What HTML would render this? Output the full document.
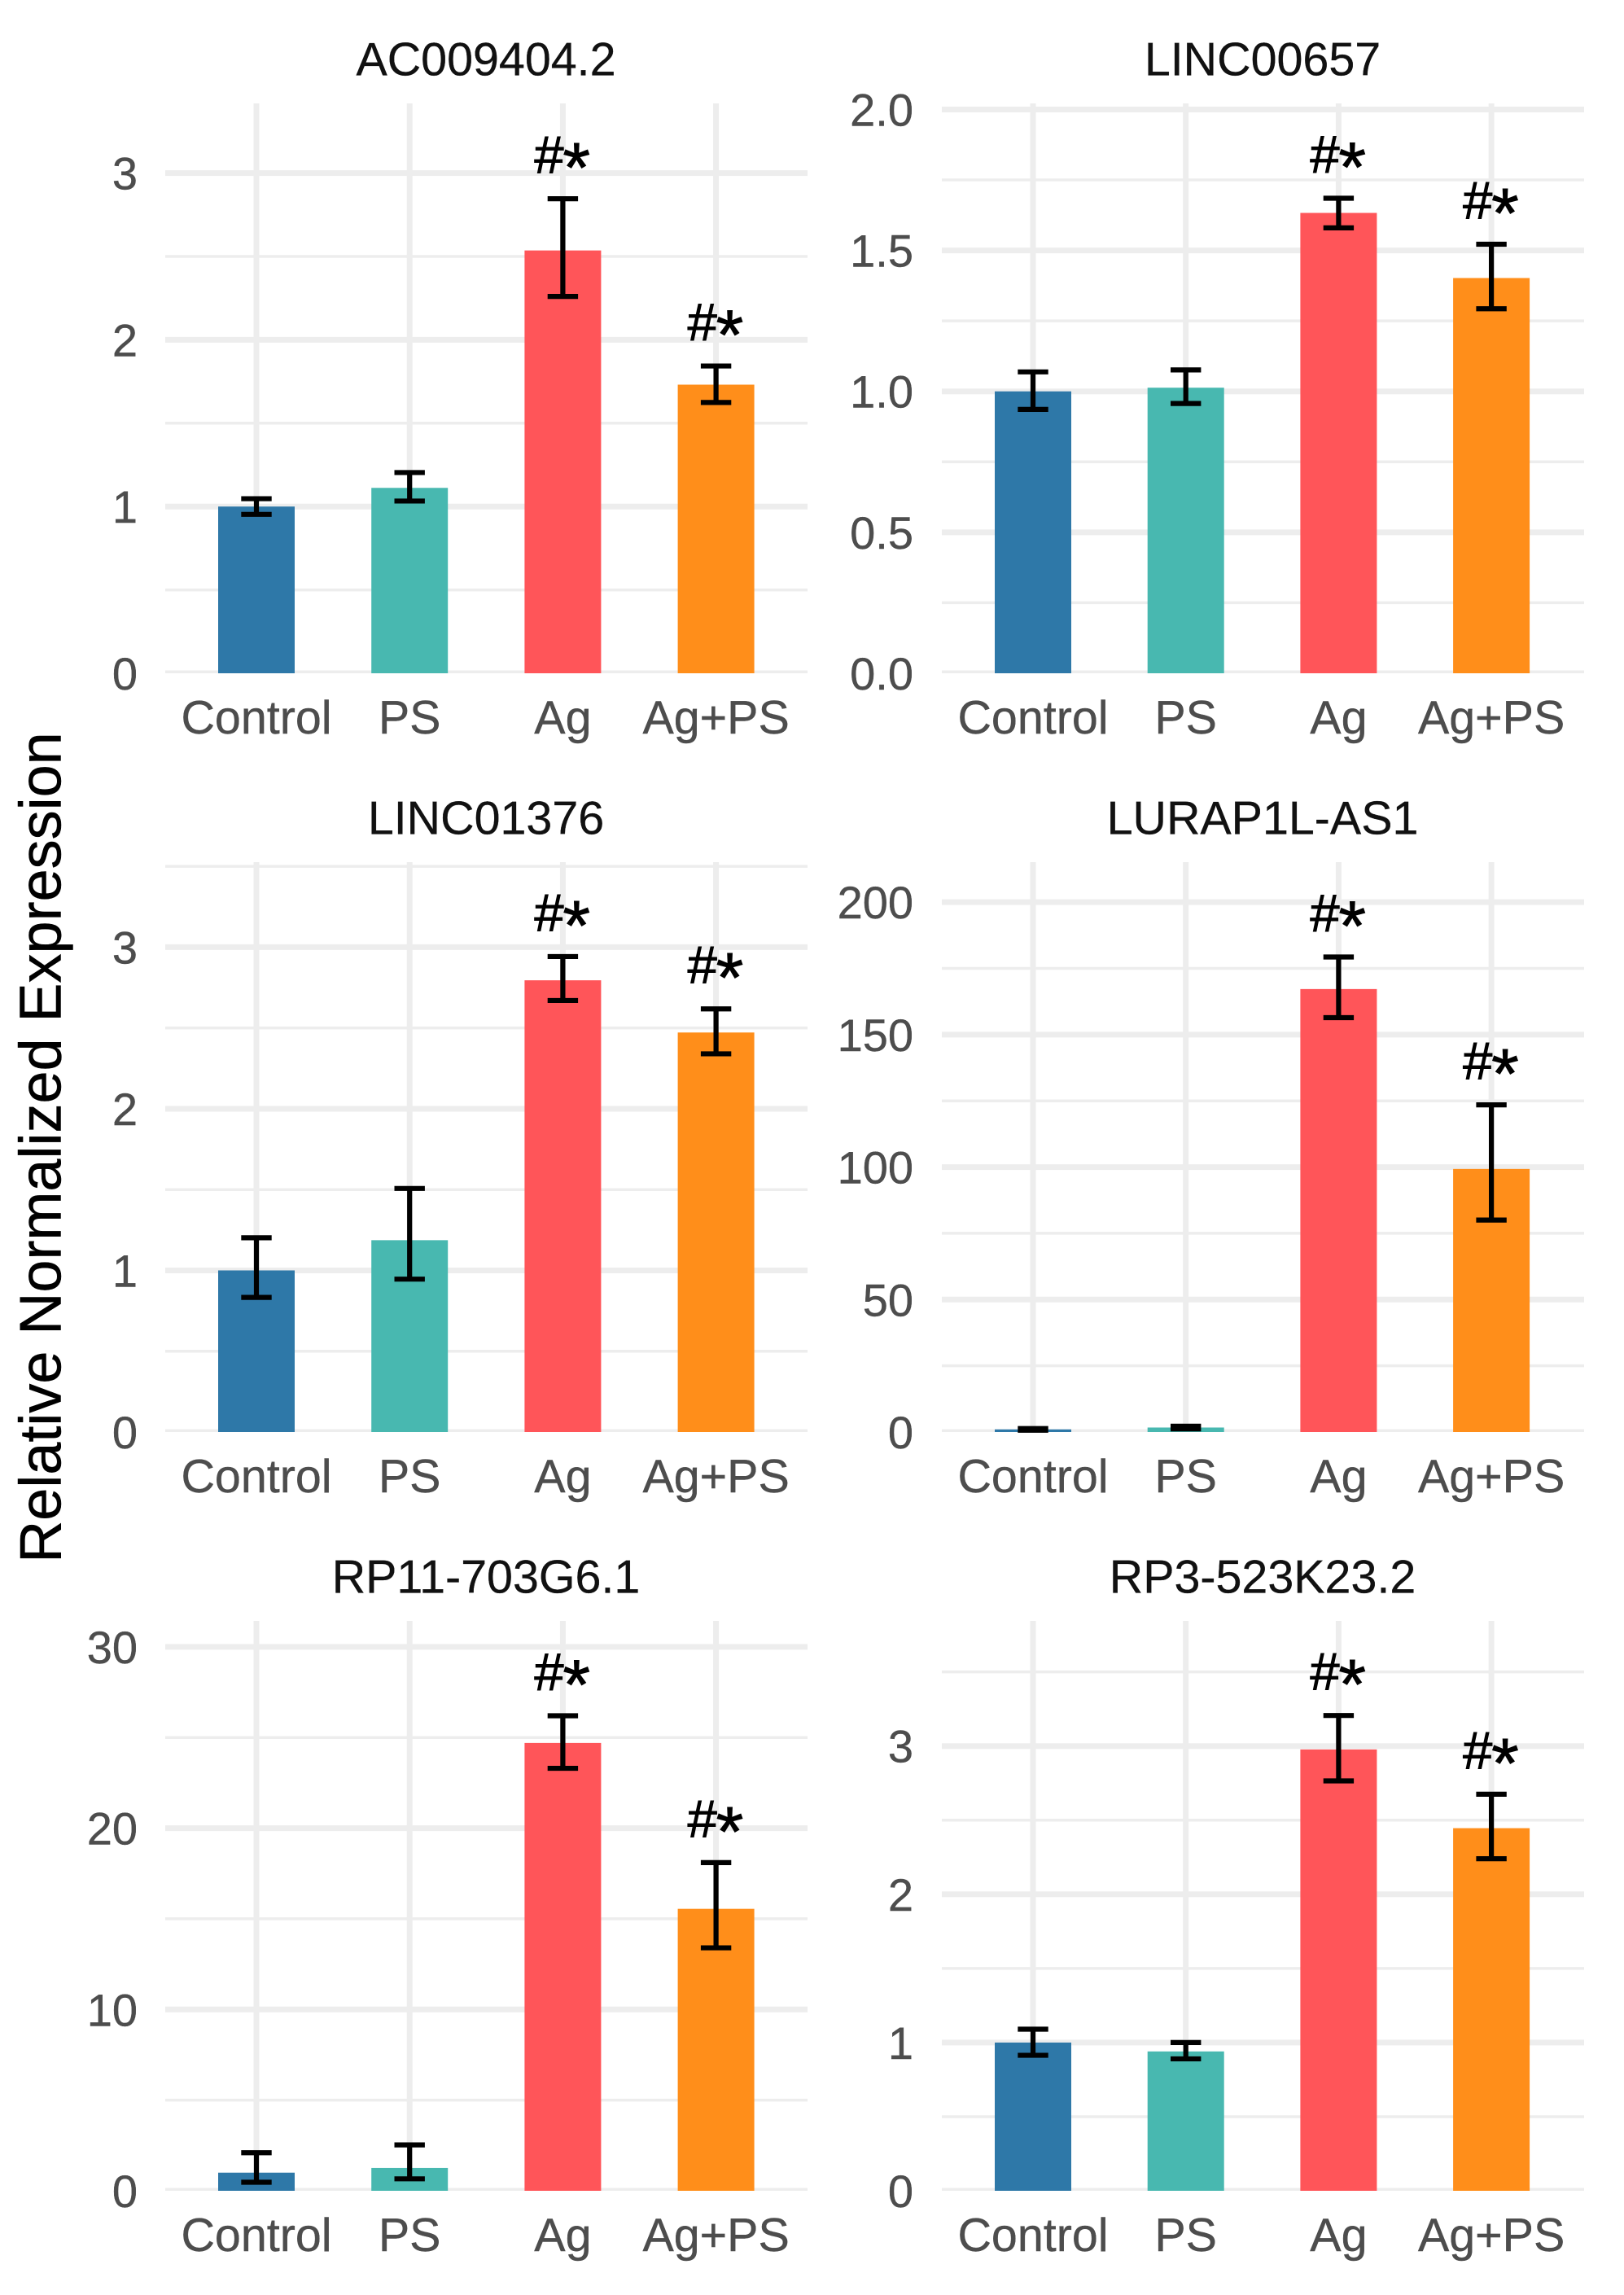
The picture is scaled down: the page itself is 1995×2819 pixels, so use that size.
<!DOCTYPE html>
<html lang="en">
<head>
<meta charset="utf-8">
<title>Relative Normalized Expression</title>
<style>
html,body{margin:0;padding:0;background:#fff;}
svg{display:block;}
text{font-family:"Liberation Sans",Arial,sans-serif;}
</style>
</head>
<body>
<svg id="chart" xmlns="http://www.w3.org/2000/svg" width="1995" height="2819" viewBox="0 0 1995 2819">
  <rect x="0" y="0" width="1995" height="2819" fill="#ffffff"/>
  <text x="0" y="0" transform="translate(74.6 1409.5) rotate(-90)" text-anchor="middle" font-size="72" fill="#000000" stroke="#000000" stroke-width="0.5">Relative Normalized Expression</text>
</svg>
<script>
const categories = ["Control", "PS", "Ag", "Ag+PS"];
const significance = ["", "", "#*", "#*"];

const ac009404Title = "AC009404.2";
const ac009404Means = [1.00, 1.112, 2.536, 1.731];
const ac009404Upper = [1.047, 1.204, 2.846, 1.843];
const ac009404Lower = [0.953, 1.033, 2.26, 1.624];
const ac009404Ticks = ["0", "1", "2", "3"];
const ac009404Top = 3.418;

const linc00657Title = "LINC00657";
const linc00657Means = [1.00, 1.013, 1.633, 1.402];
const linc00657Upper = [1.069, 1.076, 1.685, 1.522];
const linc00657Lower = [0.936, 0.957, 1.58, 1.293];
const linc00657Ticks = ["0.0", "0.5", "1.0", "1.5", "2.0"];
const linc00657Top = 2.0215;

const linc01376Title = "LINC01376";
const linc01376Means = [1.00, 1.187, 2.795, 2.472];
const linc01376Upper = [1.202, 1.507, 2.942, 2.618];
const linc01376Lower = [0.833, 0.946, 2.67, 2.34];
const linc01376Ticks = ["0", "1", "2", "3"];
const linc01376Top = 3.526;

const lurap1lTitle = "LURAP1L-AS1";
const lurap1lMeans = [1.0, 1.7, 167.2, 99.3];
const lurap1lUpper = [1.3, 2.2, 179.3, 123.5];
const lurap1lLower = [0.7, 1.2, 156.4, 80];
const lurap1lTicks = ["0", "50", "100", "150", "200"];
const lurap1lTop = 215.1;

const rp11Title = "RP11-703G6.1";
const rp11Means = [1.0, 1.26, 24.7, 15.55];
const rp11Upper = [2.1, 2.53, 26.2, 18.1];
const rp11Lower = [0.47, 0.66, 23.3, 13.4];
const rp11Ticks = ["0", "10", "20", "30"];
const rp11Top = 31.43;

const rp3Title = "RP3-523K23.2";
const rp3Means = [1.0, 0.94, 2.977, 2.446];
const rp3Upper = [1.09, 1.0, 3.206, 2.675];
const rp3Lower = [0.914, 0.89, 2.765, 2.24];
const rp3Ticks = ["0", "1", "2", "3"];
const rp3Top = 3.844;

const panelTitles = [ac009404Title, linc00657Title, linc01376Title, lurap1lTitle, rp11Title, rp3Title];
const panelMeans = [ac009404Means, linc00657Means, linc01376Means, lurap1lMeans, rp11Means, rp3Means];
const panelUpper = [ac009404Upper, linc00657Upper, linc01376Upper, lurap1lUpper, rp11Upper, rp3Upper];
const panelLower = [ac009404Lower, linc00657Lower, linc01376Lower, lurap1lLower, rp11Lower, rp3Lower];
const panelTicks = [ac009404Ticks, linc00657Ticks, linc01376Ticks, lurap1lTicks, rp11Ticks, rp3Ticks];
const panelTops = [ac009404Top, linc00657Top, linc01376Top, lurap1lTop, rp11Top, rp3Top];

const barColors = ["#2E78A8", "#48B8B0", "#FF5559", "#FF8E1A"];

const svg = document.getElementById("chart");
const NS = "http://www.w3.org/2000/svg";
const GRID = "#EDEDED";
const PANEL_W = 789;
const PANEL_H = 700;
const COL_LEFT = [203, 1157];
const ROW_BOTTOM = [827, 1759, 2691];
const TICK_GAP = [34, 35];
const BAND = [188.2, 187.7];

function make(tag, attrs, parent) {
  const el = document.createElementNS(NS, tag);
  for (const k in attrs) el.setAttribute(k, attrs[k]);
  parent.appendChild(el);
  return el;
}
function slug(s) {
  return String(s).toLowerCase().replace(/\+/g, "-plus-").replace(/[^a-z0-9]+/g, "-").replace(/^-|-$/g, "");
}

panelTitles.forEach(function (title, p) {
  const left = COL_LEFT[p % 2];
  const bottom = ROW_BOTTOM[Math.floor(p / 2)];
  const top = bottom - PANEL_H;
  const right = left + PANEL_W;
  const yMax = panelTops[p];
  const yScale = function (v) { return bottom - (v / yMax) * PANEL_H; };
  const band = BAND[p % 2];
  const xScale = function (i) { return left + 112 + band * i; };
  const key = slug(title);

  const group = make("g", {}, svg);
  
  

  const clip = make("clipPath", { id: "clip-" + p }, group);
  const clipRect = make("rect", { x: left, y: top, width: PANEL_W, height: PANEL_H }, clip);
  
  

  const grid = make("g", { "clip-path": "url(#clip-" + p + ")" }, group);
  
  

  const tickValues = panelTicks[p].map(Number);
  const step = tickValues[1] - tickValues[0];

  for (let m = step / 2; m < yMax; m += step) {
    const minor = make("line", { x1: left, x2: right, y1: yScale(m), y2: yScale(m), stroke: GRID, "stroke-width": 3.5 }, grid);
    
    
  }
  tickValues.forEach(function (v) {
    const major = make("line", { x1: left, x2: right, y1: yScale(v), y2: yScale(v), stroke: GRID, "stroke-width": 7 }, grid);
    
    
  });
  categories.forEach(function (c, i) {
    const vline = make("line", { x1: xScale(i), x2: xScale(i), y1: top, y2: bottom, stroke: GRID, "stroke-width": 7 }, grid);
    
    
  });

  panelTicks[p].forEach(function (label) {
    const t = make("text", { x: left - TICK_GAP[p % 2], y: yScale(Number(label)) + 20, "text-anchor": "end", "font-size": 56, fill: "#4D4D4D", stroke: "#4D4D4D", "stroke-width": 0.4 }, group);
    t.textContent = label;
    
    
  });

  categories.forEach(function (c, i) {
    const cx = xScale(i);
    const name = slug(c);
    const barWidth = 94;
    const mean = panelMeans[p][i];

    const bar = make("rect", { x: cx - barWidth / 2, y: yScale(mean), width: barWidth, height: bottom - yScale(mean), fill: barColors[i] }, group);
    
    

    const upperY = yScale(panelUpper[p][i]);
    const lowerY = yScale(panelLower[p][i]);
    const capHalf = 18.7;

    const err = make("path", {
      d: "M" + (cx - capHalf) + " " + upperY + "H" + (cx + capHalf) +
         "M" + cx + " " + upperY + "V" + lowerY +
         "M" + (cx - capHalf) + " " + lowerY + "H" + (cx + capHalf),
      fill: "none", stroke: "#000000", "stroke-width": 6.2
    }, group);
    
    

    if (significance[i]) {
      const sig = make("text", { x: cx - 35, y: upperY - 31.6, "font-size": 65, fill: "#000000", stroke: "#000000", "stroke-width": 1 }, group);
      
      
      const hash = make("tspan", {}, sig);
      hash.textContent = significance[i].charAt(0);
      
      
      const star = make("tspan", { "font-size": 86, dy: 23, dx: -1 }, sig);
      star.textContent = significance[i].charAt(1);
      
      
    }

    const xLabel = make("text", { x: cx, y: bottom + 74, "text-anchor": "middle", "font-size": 57.4, fill: "#4D4D4D", stroke: "#4D4D4D", "stroke-width": 0.4 }, group);
    xLabel.textContent = c;
    
    
  });

  const titleEl = make("text", { x: left + PANEL_W / 2 - 0.5, y: bottom - 734.3, "text-anchor": "middle", "font-size": 57.4, fill: "#111111", stroke: "#111111", "stroke-width": 0.3 }, group);
  titleEl.textContent = title;
  
  
});
</script>
</body>
</html>
